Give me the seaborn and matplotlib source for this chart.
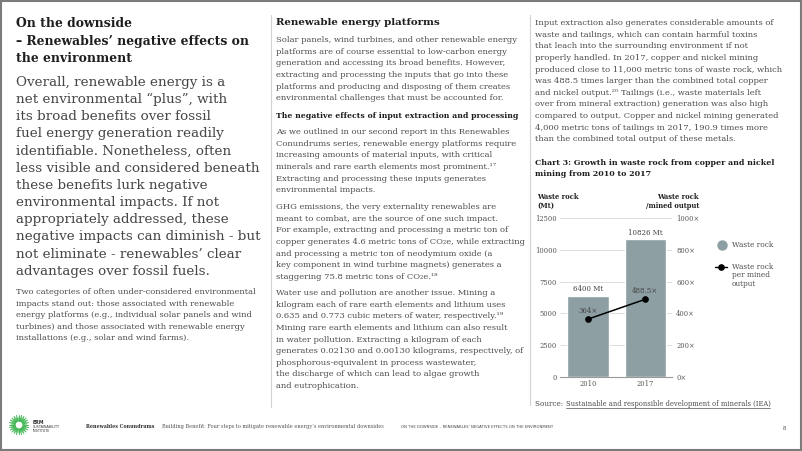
import numpy as np
import matplotlib
matplotlib.use("Agg")
import matplotlib.pyplot as plt
from matplotlib.lines import Line2D
from matplotlib.patches import Rectangle, Circle
import seaborn as sns

# chart data
years = ["2010", "2017"]
waste_rock = [6400, 10826]          # Mt
rock_per_output = [364, 488.5]      # x mined output
left_ticks = [0, 2500, 5000, 7500, 10000, 12500]
right_ticks = [0, 200, 400, 600, 800, 1000]

# page text
heading = ["On the downside", "\u2013 Renewables\u2019 negative effects on", "the environment"]
intro = [
    "Overall, renewable energy is a",
    "net environmental \u201cplus\u201d, with",
    "its broad benefits over fossil",
    "fuel energy generation readily",
    "identifiable. Nonetheless, often",
    "less visible and considered beneath",
    "these benefits lurk negative",
    "environmental impacts. If not",
    "appropriately addressed, these",
    "negative impacts can diminish - but",
    "not eliminate - renewables\u2019 clear",
    "advantages over fossil fuels.",
]
left_small = [
    "Two categories of often under-considered environmental",
    "impacts stand out: those associated with renewable",
    "energy platforms (e.g., individual solar panels and wind",
    "turbines) and those associated with renewable energy",
    "installations (e.g., solar and wind farms).",
]
mid_p1 = [
    "Solar panels, wind turbines, and other renewable energy",
    "platforms are of course essential to low-carbon energy",
    "generation and accessing its broad benefits. However,",
    "extracting and processing the inputs that go into these",
    "platforms and producing and disposing of them creates",
    "environmental challenges that must be accounted for.",
]
mid_p2 = [
    "As we outlined in our second report in this Renewables",
    "Conundrums series, renewable energy platforms require",
    "increasing amounts of material inputs, with critical",
    "minerals and rare earth elements most prominent.\u00b9\u2077",
    "Extracting and processing these inputs generates",
    "environmental impacts.",
]
mid_p3 = [
    "GHG emissions, the very externality renewables are",
    "meant to combat, are the source of one such impact.",
    "For example, extracting and processing a metric ton of",
    "copper generates 4.6 metric tons of CO\u2082e, while extracting",
    "and processing a metric ton of neodymium oxide (a",
    "key component in wind turbine magnets) generates a",
    "staggering 75.8 metric tons of CO\u2082e.\u00b9\u2078",
]
mid_p4 = [
    "Water use and pollution are another issue. Mining a",
    "kilogram each of rare earth elements and lithium uses",
    "0.635 and 0.773 cubic meters of water, respectively.\u00b9\u2079",
    "Mining rare earth elements and lithium can also result",
    "in water pollution. Extracting a kilogram of each",
    "generates 0.02130 and 0.00130 kilograms, respectively, of",
    "phosphorous-equivalent in process wastewater,",
    "the discharge of which can lead to algae growth",
    "and eutrophication.",
]
right_p1 = [
    "Input extraction also generates considerable amounts of",
    "waste and tailings, which can contain harmful toxins",
    "that leach into the surrounding environment if not",
    "properly handled. In 2017, copper and nickel mining",
    "produced close to 11,000 metric tons of waste rock, which",
    "was 488.5 times larger than the combined total copper",
    "and nickel output.\u00b2\u2070 Tailings (i.e., waste materials left",
    "over from mineral extraction) generation was also high",
    "compared to output. Copper and nickel mining generated",
    "4,000 metric tons of tailings in 2017, 190.9 times more",
    "than the combined total output of these metals.",
]
chart_title = ["Chart 3: Growth in waste rock from copper and nickel", "mining from 2010 to 2017"]

W, H = 802, 451
BAR = "#8d9fa3"
DARK = "#1e1e1e"
BODY = "#4d4d4d"
SERIF = ["DejaVu Serif", "DejaVu Sans"]

sns.set_style("white")
plt.rcParams["font.family"] = SERIF

fig = plt.figure(figsize=(W / 100, H / 100), dpi=100)
fig.patch.set_facecolor("white")


def fx(x):
    return x / W


def fy(y):
    return 1 - y / H


def put(x, y, s, size, weight="normal", color=BODY, ha="left", **kw):
    # y is the visual middle of the line in pixels
    base = y + 0.26 * size / 0.72
    return fig.text(fx(x), fy(base), s, fontsize=size, fontweight=weight,
                    color=color, ha=ha, va="baseline", **kw)


def block(x, y0, dy, lines, size, **kw):
    for i, s in enumerate(lines):
        put(x, y0 + i * dy, s, size, **kw)


# page frame and column rules
fig.add_artist(Rectangle((fx(1), fy(450)), fx(800), 449 / H, transform=fig.transFigure,
                         fill=False, ec="#7b7b7b", lw=1.5))
for xx, y1 in [(271, 407), (530, 405)]:
    fig.add_artist(Line2D([fx(xx), fx(xx)], [fy(15), fy(y1)], transform=fig.transFigure,
                          color="#d2d2d2", lw=0.8))

# left column
block(16, 24, 17.5, heading, 8.95, weight="bold", color=DARK)
block(16, 82, 17.2, intro, 9.7, color="#464646")
block(16, 292, 11.5, left_small, 6.05)

# middle column
put(276, 22, "Renewable energy platforms", 7.4, weight="bold", color=DARK)
block(276, 40, 11.6, mid_p1, 6.0)
put(276, 116, "The negative effects of input extraction and processing", 5.6, weight="bold", color=DARK)
block(276, 132, 11.6, mid_p2, 6.0)
block(276, 207, 11.6, mid_p3, 6.0)
block(276, 293, 11.6, mid_p4, 6.0)

# right column
block(535, 23, 11.6, right_p1, 6.0)
block(535, 162.5, 11.2, chart_title, 5.7, weight="bold", color=DARK)

# chart
ax = fig.add_axes([fx(560), fy(377), 112 / W, 159 / H])
sns.barplot(x=years, y=waste_rock, color=BAR, saturation=1, width=0.72, ax=ax)
ax.set_ylim(0, 12500)
ax.set_yticks(left_ticks)
ax.set_yticklabels([str(v) for v in left_ticks])
ax.set_xlim(-0.49, 1.47)
ax.set_xlabel("")
ax.set_ylabel("")
ax.yaxis.grid(True, color="#dcdcdc", lw=0.7)
ax.set_axisbelow(True)
for side in ["top", "right", "left"]:
    ax.spines[side].set_visible(False)
ax.spines["bottom"].set_color("#9a9a9a")
ax.spines["bottom"].set_linewidth(0.8)
ax.tick_params(length=0, labelsize=4.9, colors="#555555", pad=2)
ax.bar_label(ax.containers[0], labels=[f"{v} Mt" for v in waste_rock],
             padding=1.8, fontsize=5, color="#444444")

ax2 = ax.twinx()
ax2.plot(np.arange(len(years)), rock_per_output, color="black", lw=1.1,
         marker="o", markersize=3.8, zorder=5)
ax2.set_ylim(0, 1000)
ax2.set_yticks(right_ticks)
ax2.set_yticklabels([f"{v}\u00d7" for v in right_ticks])
for side in ["top", "right", "left", "bottom"]:
    ax2.spines[side].set_visible(False)
ax2.tick_params(length=0, labelsize=4.9, colors="#555555", pad=3)
for i, r in enumerate(rock_per_output):
    ax2.annotate(f"{r:g}\u00d7", (i, r), xytext=(0, 3.2), textcoords="offset points",
                 ha="center", va="bottom", fontsize=5, color="#444444")

# axis titles
put(537, 197.5, "Waste rock", 4.9, weight="bold", color=DARK)
put(537, 206, "(Mt)", 4.9, weight="bold", color=DARK)
put(699, 197.5, "Waste rock", 4.9, weight="bold", color=DARK, ha="right")
put(699, 206, "/mined output", 4.9, weight="bold", color=DARK, ha="right")

# legend
fig.add_artist(Line2D([fx(721.5)], [fy(245)], transform=fig.transFigure, marker="o",
                      markersize=6.5, color=BAR, ls="none"))
put(731.5, 245, "Waste rock", 5.3)
fig.add_artist(Line2D([fx(715), fx(727)], [fy(266.7), fy(266.7)], transform=fig.transFigure,
                      color="black", lw=1.0))
fig.add_artist(Line2D([fx(721)], [fy(266.7)], transform=fig.transFigure, marker="o",
                      markersize=3.8, color="black", ls="none"))
block(731.5, 266.7, 8.8, ["Waste rock", "per mined", "output"], 5.3)

# source line with underlined link
src = put(535, 404, "Source: ", 5.2)
fig.canvas.draw()
r = fig.canvas.get_renderer()
x_link = src.get_window_extent(r).x1
link = fig.text(x_link / W, fy(404 + 0.26 * 5.2 / 0.72),
                "Sustainable and responsible development of minerals (IEA)",
                fontsize=4.9, color=BODY, va="baseline")
fig.canvas.draw()
bb = link.get_window_extent(r)
fig.add_artist(Line2D([bb.x0 / W, bb.x1 / W], [fy(407.5), fy(407.5)],
                      transform=fig.transFigure, color=BODY, lw=0.5))

# footer logo
lax = fig.add_axes([fx(9), fy(435), 20 / W, 20 / H])
lax.set_xlim(-1, 1)
lax.set_ylim(-1, 1)
lax.axis("off")
ang = np.linspace(0, 2 * np.pi, 48, endpoint=False)
outer = np.where(np.arange(48) % 2 == 0, 1.0, 0.8)
for a, o in zip(ang, outer):
    lax.plot([0.38 * np.cos(a), o * np.cos(a)], [0.38 * np.sin(a), o * np.sin(a)],
             color="#37b34a", lw=0.6)
lax.add_patch(Circle((0.08, 0.02), 0.3, color="white"))
put(33, 422.5, "ERM", 3.4, weight="bold", color="#333333", family="DejaVu Sans")
put(33, 427, "SUSTAINABILITY", 2.4, color="#333333", family="DejaVu Sans")
put(33, 431, "INSTITUTE", 2.4, color="#333333", family="DejaVu Sans")

put(86, 426.7, "Renewables Conundrums", 3.45, weight="bold", color="#333333")
put(162.5, 426.7, "Building Benefit: Four steps to mitigate renewable energy\u2019s environmental downsides",
    3.6, color="#555555")
put(401, 426.7, "ON THE DOWNSIDE \u2013 RENEWABLES\u2019 NEGATIVE EFFECTS ON THE ENVIRONMENT",
    2.67, color="#444444", family="DejaVu Sans")
put(786, 428.5, "8", 3.5, color="#333333", ha="right")

fig.savefig("out.png", dpi=100, facecolor="white")
